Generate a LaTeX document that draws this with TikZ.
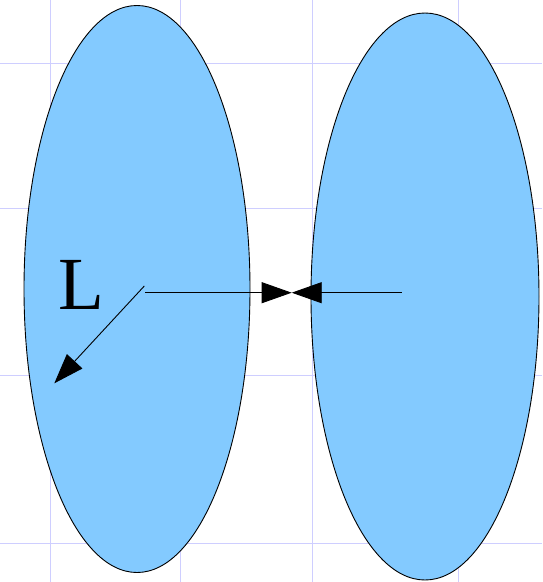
\documentclass[tikz,border=0pt]{standalone}
\usepackage{fontspec}
\setmainfont{Liberation Serif}
\usetikzlibrary{arrows.meta}
\definecolor{cellblue}{RGB}{131,202,255}
\definecolor{gridline}{RGB}{206,206,255}
\begin{document}
\begin{tikzpicture}[x=1pt,y=-1pt,line width=0.9pt,
  cell/.style={draw=black,fill=cellblue},
  bigtip/.style={-{Triangle[length=30pt,width=21pt]}}]
\useasboundingbox (0,0) rectangle (542,582);
\foreach \gx in {50,180,312,458} \draw[gridline] (\gx,0)--(\gx,582);
\foreach \gy in {63,208,375,543} \draw[gridline] (0,\gy)--(542,\gy);
\draw[cell] (137,289) ellipse [x radius=113,y radius=283.5];
\draw[cell] (425,296.5) ellipse [x radius=114,y radius=283.5];
\coordinate (lc) at (145,292.7);
\coordinate (lo) at (144.3,286);
\coordinate (rc) at (401.7,292.7);
\coordinate (gap) at (291.7,292.7);
\coordinate (rim) at (54.3,383.3);
\draw[bigtip] (lc)--(gap);
\draw[bigtip] (rc)--(gap);
\draw[bigtip] (lo)--(rim);
\node[inner sep=0pt] (len) at (81,285) {\fontsize{75}{75}\selectfont L};
\end{tikzpicture}
\end{document}
